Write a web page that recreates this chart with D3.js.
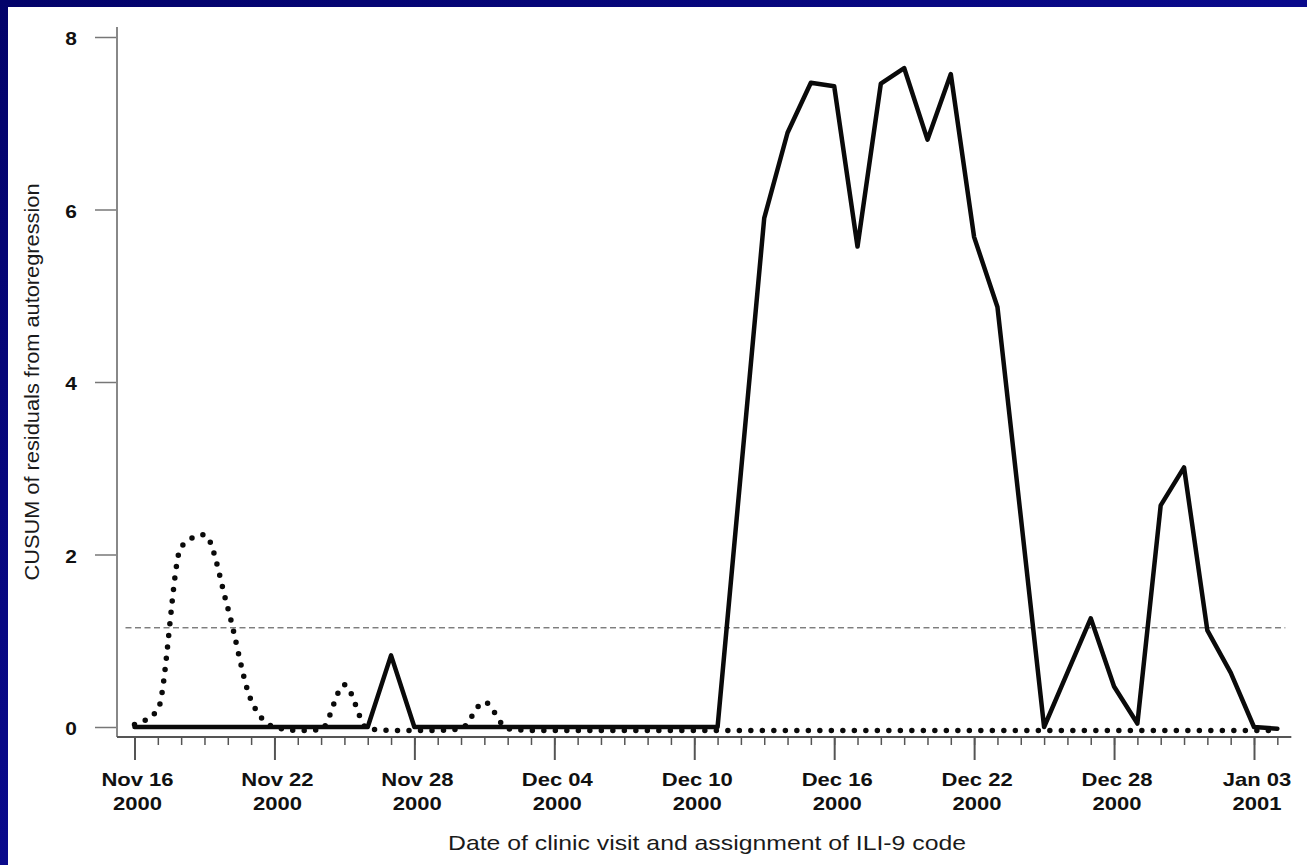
<!DOCTYPE html>
<html>
<head>
<meta charset="utf-8">
<script src="https://cdn.jsdelivr.net/npm/d3@7"></script>
<style>
  html, body { margin: 0; padding: 0; background: #06067a; }
  svg { display: block; }
  text { font-family: "Liberation Sans", Arial, Helvetica, sans-serif; }
</style>
</head>
<body>
<svg id="chart" width="1307" height="865"></svg>
<script>
// Daily dates from Nov 16 2000 to Jan 04 2001
const dates = [
  "2000-11-16","2000-11-17","2000-11-18","2000-11-19","2000-11-20","2000-11-21",
  "2000-11-22","2000-11-23","2000-11-24","2000-11-25","2000-11-26","2000-11-27",
  "2000-11-28","2000-11-29","2000-11-30","2000-12-01","2000-12-02","2000-12-03",
  "2000-12-04","2000-12-05","2000-12-06","2000-12-07","2000-12-08","2000-12-09",
  "2000-12-10","2000-12-11","2000-12-12","2000-12-13","2000-12-14","2000-12-15",
  "2000-12-16","2000-12-17","2000-12-18","2000-12-19","2000-12-20","2000-12-21",
  "2000-12-22","2000-12-23","2000-12-24","2000-12-25","2000-12-26","2000-12-27",
  "2000-12-28","2000-12-29","2000-12-30","2000-12-31","2001-01-01","2001-01-02",
  "2001-01-03","2001-01-04"
];

// CUSUM, solid series
const cusumSolid = [
  0, 0, 0, 0, 0, 0,
  0, 0, 0, 0, 0, 0.83,
  0, 0, 0, 0, 0, 0,
  0, 0, 0, 0, 0, 0,
  0, 0, 2.95, 5.9, 6.89, 7.47,
  7.43, 5.57, 7.46, 7.64, 6.81, 7.57,
  5.68, 4.87, 2.44, 0, 0.63, 1.26,
  0.47, 0.04, 2.57, 3.01, 1.12, 0.63,
  0, -0.02
];

// CUSUM, dotted series
const cusumDotted = [
  0.03, 0.2, 2.09, 2.23, 1.38, 0.31,
  0.0, -0.04, -0.03, 0.49, -0.02, -0.04,
  -0.04, -0.04, -0.02, 0.29, -0.02, -0.04,
  -0.04, -0.04, -0.04, -0.04, -0.04, -0.04,
  -0.04, -0.04, -0.04, -0.04, -0.04, -0.04,
  -0.04, -0.04, -0.04, -0.04, -0.04, -0.04,
  -0.04, -0.04, -0.04, -0.04, -0.04, -0.04,
  -0.04, -0.04, -0.04, -0.04, -0.04, -0.04,
  -0.04, -0.04
];

// Alert threshold
const threshold = 1.15;

const yTicks = [0, 2, 4, 6, 8];
const xMajorTicks = ["2000-11-16","2000-11-22","2000-11-28","2000-12-04","2000-12-10","2000-12-16","2000-12-22","2000-12-28","2001-01-03"];
const xTickLine1 = ["Nov 16","Nov 22","Nov 28","Dec 04","Dec 10","Dec 16","Dec 22","Dec 28","Jan 03"];
const xTickLine2 = ["2000","2000","2000","2000","2000","2000","2000","2000","2001"];

const yTitle = "CUSUM of residuals from autoregression";
const xTitle = "Date of clinic visit and assignment of ILI-9 code";

const parse = d3.utcParse("%Y-%m-%d");
const days = dates.map(parse);

const svg = d3.select("#chart");
const W = 1307, H = 865;

// slide background: navy frame with white panel
const defs = svg.append("defs");
const grad = defs.append("linearGradient").attr("id", "navy").attr("x1", 0).attr("y1", 0).attr("x2", 1).attr("y2", 1);
grad.append("stop").attr("offset", "0%").attr("stop-color", "#03036a");
grad.append("stop").attr("offset", "50%").attr("stop-color", "#0a0a8c");
grad.append("stop").attr("offset", "100%").attr("stop-color", "#05057a");
svg.append("rect").attr("width", W).attr("height", H).attr("fill", "url(#navy)");
svg.append("rect").attr("x", 8).attr("y", 7).attr("width", W - 8).attr("height", H - 7).attr("fill", "#ffffff");

const x = d3.scaleUtc()
  .domain([parse("2000-11-16"), parse("2001-01-03")])
  .range([134.5, 1254]);
const y = d3.scaleLinear().domain([0, 8]).range([727, 37]);

const axisY0 = 737;   // baseline of the x axis
const axisX0 = 117;   // position of the y axis

// threshold line
svg.append("line")
  .attr("x1", x(days[0]) - 9).attr("x2", x(days[days.length - 1]) + 8)
  .attr("y1", y(threshold)).attr("y2", y(threshold))
  .attr("stroke", "#444").attr("stroke-width", 1)
  .attr("stroke-dasharray", "6,3.5");

// y axis
const yAxis = d3.axisLeft(y).tickValues(yTicks).tickSize(22).tickPadding(18).tickFormat(d3.format("d"));
const gy = svg.append("g").attr("transform", `translate(${axisX0},0)`).call(yAxis);
gy.select(".domain").remove();
gy.selectAll(".tick line").attr("stroke", "#777").attr("stroke-width", 1.5);
gy.selectAll(".tick text")
  .attr("font-size", 19).attr("font-weight", "bold").attr("fill", "#111")
  .attr("dy", "0.42em")
  .each(function() {
    const t = d3.select(this);
    const tx = +t.attr("x");
    t.attr("x", null).attr("transform", `translate(${tx},0) scale(1.1,1)`);
  });
svg.append("line")
  .attr("x1", axisX0).attr("x2", axisX0)
  .attr("y1", y(8) - 10).attr("y2", axisY0)
  .attr("stroke", "#888").attr("stroke-width", 2);

// x axis: minor daily ticks, major ticks every 6 days
const gxMinor = svg.append("g").attr("transform", `translate(0,${axisY0})`)
  .call(d3.axisBottom(x).tickValues(days).tickSize(8).tickSizeOuter(0).tickFormat(""));
gxMinor.select(".domain").remove();
gxMinor.selectAll(".tick line").attr("stroke", "#555").attr("stroke-width", 1.5);

const majors = xMajorTicks.map(parse);
const gxMajor = svg.append("g").attr("transform", `translate(0,${axisY0})`)
  .call(d3.axisBottom(x).tickValues(majors).tickSize(23).tickSizeOuter(0).tickFormat(""));
gxMajor.select(".domain").remove();
gxMajor.selectAll(".tick line").attr("stroke", "#555").attr("stroke-width", 2);

svg.append("line")
  .attr("x1", axisX0).attr("x2", x(days[days.length - 1]) + 14)
  .attr("y1", axisY0).attr("y2", axisY0)
  .attr("stroke", "#555").attr("stroke-width", 2);

// two-line date labels
const labels = svg.append("g");
majors.forEach((d, i) => {
  const cx = x(d) + 3;
  labels.append("text")
    .attr("transform", `translate(${cx},786) scale(1.16,1)`)
    .attr("text-anchor", "middle").attr("font-size", 19).attr("font-weight", "bold")
    .attr("fill", "#111").text(xTickLine1[i]);
  labels.append("text")
    .attr("transform", `translate(${cx},810) scale(1.16,1)`)
    .attr("text-anchor", "middle").attr("font-size", 19).attr("font-weight", "bold")
    .attr("fill", "#111").text(xTickLine2[i]);
});

// axis titles
svg.append("text")
  .attr("transform", `translate(707,850) scale(1.24,1)`)
  .attr("text-anchor", "middle").attr("font-size", 20).attr("fill", "#1a1a1a")
  .text(xTitle);
svg.append("text")
  .attr("transform", `translate(39,382) rotate(-90) scale(1.09,1)`)
  .attr("text-anchor", "middle").attr("font-size", 20).attr("fill", "#1a1a1a")
  .text(yTitle);

// series
const dotted = days.map((d, i) => ({ date: d, v: cusumDotted[i] }));
const solid = days.map((d, i) => ({ date: d, v: cusumSolid[i] }));

svg.append("path")
  .datum(dotted)
  .attr("fill", "none").attr("stroke", "#0a0a0a").attr("stroke-width", 5.5)
  .attr("stroke-linecap", "round").attr("stroke-dasharray", "0,11.5")
  .attr("d", d3.line().x(d => x(d.date)).y(d => y(d.v)).curve(d3.curveMonotoneX));

svg.append("path")
  .datum(solid)
  .attr("fill", "none").attr("stroke", "#0a0a0a").attr("stroke-width", 4.5)
  .attr("stroke-linejoin", "round").attr("stroke-linecap", "round")
  .attr("d", d3.line().x(d => x(d.date)).y(d => y(d.v)));
</script>
</body>
</html>
